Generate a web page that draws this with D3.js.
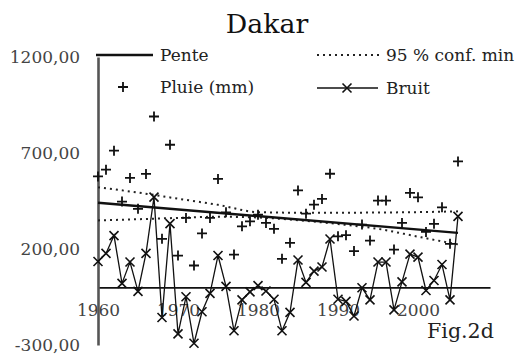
<!DOCTYPE html>
<html>
<head>
<meta charset="utf-8">
<script src="https://cdn.jsdelivr.net/npm/d3@7"></script>
<style>
  body { margin: 0; background: #fff; }
  svg { display: block; }
</style>
</head>
<body>
<div id="chart"></div>
<script>
// values (mm)
const years = [1960, 1961, 1962, 1963, 1964, 1965, 1966, 1967, 1968, 1969,
  1970, 1971, 1972, 1973, 1974, 1975, 1976, 1977, 1978, 1979,
  1980, 1981, 1982, 1983, 1984, 1985, 1986, 1987, 1988, 1989,
  1990, 1991, 1992, 1993, 1994, 1995, 1996, 1997, 1998, 1999,
  2000, 2001, 2002, 2003, 2004, 2005];
const pluie = [578, 613, 712, 447, 570, 409, 591, 890, 253, 743,
  166, 362, 114, 281, 362, 565, 391, 171, 318, 344,
  379, 336, 305, 149, 232, 505, 384, 431, 461, 592,
  266, 272, 189, 327, 244, 452, 452, 197, 336, 492,
  469, 289, 331, 417, 227, 656];
const bruit = [135, 177, 270, 21, 132, -21, 177, 470, -157, 332,
  -242, -49, -291, -127, -31, 166, 5, -226, -65, -23,
  9, -19, -62, -226, -130, 143, 26, 85, 106, 252,
  -62, -73, -149, -2, -65, 132, 132, -117, 29, 173,
  158, -16, 36, 119, -65, 370];
const penteYears = [1960, 2005];
const pente = [441, 284];
const confYears = [1960, 1965, 1970, 1975, 1980, 1985, 1990, 1995, 2000, 2005];
const confMax = [521, 494, 462, 430, 392, 389, 389, 390, 392, 396];
const confMin = [349, 355, 362, 368, 364, 350, 330, 305, 264, 224];
const yTicks = [-300, 200, 700, 1200];
const xTicks = [1960, 1970, 1980, 1990, 2000];

const width = 519, height = 354;
const stretch = 1.03; // the scan is a touch wider than DejaVu Serif
const ink = '#111';
const serif = '"DejaVu Serif", serif';

const svg = d3.select('#chart').append('svg')
  .attr('width', width)
  .attr('height', height);

const x = d3.scaleLinear().domain([1960, 2009]).range([98, 490]);
const y = d3.scaleLinear().domain([-300, 1200]).range([345, 57]);

function label(px, py, str, size, anchor, color) {
  return svg.append('text')
    .attr('transform', `translate(${px},${py}) scale(${stretch},1)`)
    .attr('font-family', serif)
    .attr('font-size', size)
    .attr('text-anchor', anchor || 'start')
    .attr('fill', color || '#222')
    .text(str);
}

// axes
const xAxis = svg.append('g')
  .attr('transform', `translate(0,${y(0)})`)
  .call(d3.axisBottom(x).tickValues(xTicks).tickSize(0).tickSizeOuter(0).tickPadding(17).tickFormat(d3.format('d')));
xAxis.attr('font-family', serif).attr('font-size', 16.5);
xAxis.select('.domain').attr('stroke', ink).attr('stroke-width', 1.6);
xAxis.selectAll('text').attr('fill', '#444').attr('transform', `scale(${stretch},1)`);

const yAxis = svg.append('g')
  .attr('transform', `translate(${x(1960)},0)`)
  .call(d3.axisLeft(y).tickValues(yTicks).tickSize(0).tickSizeOuter(0).tickPadding(18 / stretch)
    .tickFormat(d => d.toFixed(2).replace('.', ',')));
yAxis.attr('font-family', serif).attr('font-size', 16.5);
yAxis.select('.domain').attr('stroke', '#555').attr('stroke-width', 2.6);
yAxis.selectAll('text').attr('fill', '#444').attr('transform', `scale(${stretch},1)`);

// confidence curves
const confLine = d3.line().curve(d3.curveMonotoneX)
  .x((d, i) => x(confYears[i]))
  .y(d => y(d));
[confMax, confMin].forEach(serie => {
  svg.append('path')
    .attr('d', confLine(serie))
    .attr('fill', 'none')
    .attr('stroke', '#222')
    .attr('stroke-width', 2)
    .attr('stroke-dasharray', '2,4');
});

// trend
svg.append('path')
  .attr('d', d3.line().x((d, i) => x(penteYears[i])).y(d => y(d))(pente))
  .attr('fill', 'none')
  .attr('stroke', ink)
  .attr('stroke-width', 2.4);

// noise series
svg.append('path')
  .attr('d', d3.line().x((d, i) => x(years[i])).y(d => y(d))(bruit))
  .attr('fill', 'none')
  .attr('stroke', ink)
  .attr('stroke-width', 1.3);

const cross = 'M-4.5,-4.5L4.5,4.5M-4.5,4.5L4.5,-4.5';
const plus = 'M-5,0L5,0M0,-5L0,5';

svg.append('g').selectAll('path')
  .data(bruit)
  .enter().append('path')
  .attr('transform', (d, i) => `translate(${x(years[i])},${y(d)})`)
  .attr('d', cross)
  .attr('stroke', ink)
  .attr('stroke-width', 1.6);

svg.append('g').selectAll('path')
  .data(pluie)
  .enter().append('path')
  .attr('transform', (d, i) => `translate(${x(years[i])},${y(d)})`)
  .attr('d', plus)
  .attr('stroke', ink)
  .attr('stroke-width', 1.8);

// legend
svg.append('line').attr('x1', 96).attr('x2', 153).attr('y1', 55).attr('y2', 55)
  .attr('stroke', ink).attr('stroke-width', 2.6);
label(160, 61, 'Pente', 16.5);
svg.append('path').attr('transform', 'translate(123,87)').attr('d', plus)
  .attr('stroke', ink).attr('stroke-width', 1.8);
label(160, 93, 'Pluie (mm)', 16.5);

svg.append('line').attr('x1', 317).attr('x2', 381).attr('y1', 55).attr('y2', 55)
  .attr('stroke', '#222').attr('stroke-width', 2).attr('stroke-dasharray', '2,4');
label(386, 61, '95 % conf. min', 16.5);
svg.append('line').attr('x1', 317).attr('x2', 378).attr('y1', 88).attr('y2', 88)
  .attr('stroke', ink).attr('stroke-width', 1.3);
svg.append('path').attr('transform', 'translate(347,88)').attr('d', cross)
  .attr('stroke', ink).attr('stroke-width', 1.6);
label(386, 94, 'Bruit', 16.5);

// title and figure number
label(267, 33, 'Dakar', 26, 'middle', '#111');
label(427, 338, 'Fig.2d', 20, 'start', '#222');
</script>
</body>
</html>
